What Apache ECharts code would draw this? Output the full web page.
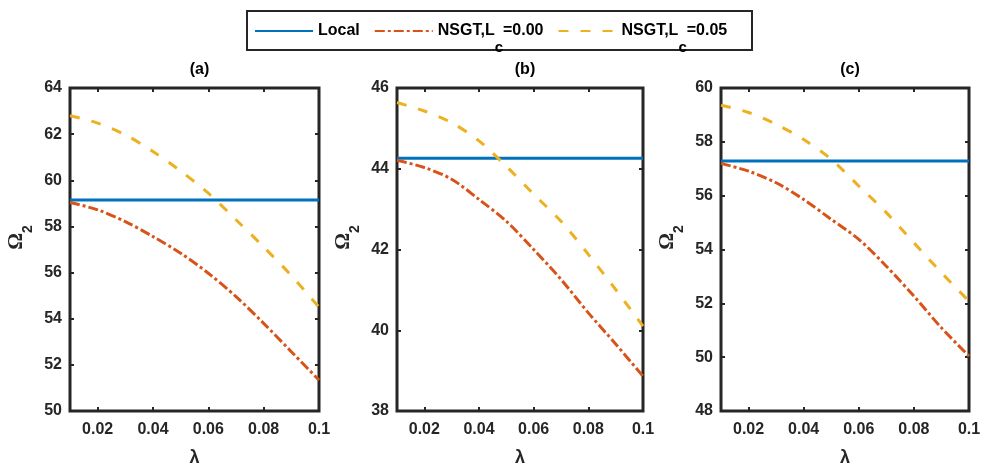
<!DOCTYPE html>
<html>
<head>
<meta charset="utf-8">
<script src="https://cdn.jsdelivr.net/npm/echarts@6/dist/echarts.min.js"></script>
<style>html,body{margin:0;padding:0;background:#fff;}#c{width:987px;height:465px;}</style>
</head>
<body>
<div id="c"></div>
<script>
// ---- data ----
const lambda = [0.01, 0.02, 0.03, 0.04, 0.05, 0.06, 0.07, 0.08, 0.09, 0.10];
const xTicks = [0.02, 0.04, 0.06, 0.08, 0.1];
const panelTitles = ['(a)', '(b)', '(c)'];
const seriesNames = ['Local', 'NSGT,L_c=0.00', 'NSGT,L_c=0.05'];

const localA = 59.15;
const nsgt0A = [59.04, 58.72, 58.21, 57.56, 56.84, 55.97, 54.96, 53.80, 52.57, 51.34];
const nsgt5A = [62.80, 62.48, 61.97, 61.25, 60.40, 59.44, 58.29, 57.11, 55.87, 54.50];

const localB = 44.26;
const nsgt0B = [44.21, 44.03, 43.74, 43.24, 42.70, 42.00, 41.26, 40.43, 39.66, 38.86];
const nsgt5B = [45.64, 45.43, 45.14, 44.69, 44.06, 43.37, 42.70, 41.88, 41.01, 40.10];

const localC = 57.29;
const nsgt0C = [57.20, 56.91, 56.48, 55.86, 55.12, 54.38, 53.38, 52.27, 51.09, 50.04];
const nsgt5C = [59.36, 59.09, 58.65, 58.09, 57.35, 56.36, 55.37, 54.25, 53.14, 52.08];

const yMin = [50, 38, 48];
const yMax = [64, 46, 60];
const yStep = [2, 2, 2];

// ---- styling / layout ----
const C_LOCAL = '#0072BD', C_N0 = '#D95319', C_N5 = '#EDB120';
const AX = '#262626';
const grids = [
  {left: 70, top: 88, width: 249, height: 323},
  {left: 397, top: 88, width: 246, height: 323},
  {left: 721, top: 88, width: 248, height: 323}
];
const panels = [
  {local: localA, n0: nsgt0A, n5: nsgt5A},
  {local: localB, n0: nsgt0B, n5: nsgt5B},
  {local: localC, n0: nsgt0C, n5: nsgt5C}
];

const FONT = 'Liberation Sans';
const option = {
  backgroundColor: '#fff',
  animation: false,
  textStyle: {fontFamily: FONT},
  grid: grids.map(g => Object.assign({show: true, borderColor: AX, borderWidth: 3, backgroundColor: 'transparent',
    containLabel: false, outerBoundsMode: 'none'}, g)),
  title: grids.map((g, i) => ({
    text: panelTitles[i], left: g.left + g.width / 2, top: 57, textAlign: 'center',
    textStyle: {fontFamily: FONT, fontWeight: 'bold', fontSize: 16, color: '#000'}
  })),
  legend: {
    left: 254, top: 23, padding: 0, itemGap: 14, itemWidth: 58, itemHeight: 14,
    data: seriesNames,
    itemStyle: {opacity: 0, borderWidth: 0},
    formatter: n => n.indexOf('L_c') >= 0 ? n.replace('L_c', 'L{sub|c}') : n,
    textStyle: {
      fontFamily: FONT, fontWeight: 'bold', fontSize: 16, color: '#000',
      rich: {sub: {fontFamily: FONT, fontWeight: 'bold', fontSize: 15, color: '#000', padding: [33, 0, 0, 0]}}
    }
  },
  graphic: [{type: 'rect', shape: {x: 247, y: 11, width: 505, height: 39},
    style: {fill: 'none', stroke: AX, lineWidth: 2}, z: -1, silent: true}],
  xAxis: [],
  yAxis: [],
  series: []
};

grids.forEach((g, i) => {
  const tick = {show: true, inside: true, length: 4, customValues: xTicks, lineStyle: {color: AX, width: 2}};
  option.xAxis.push({
    type: 'value', gridIndex: i, min: 0.01, max: 0.1, position: 'bottom',
    axisLine: {show: false}, splitLine: {show: false}, axisTick: tick,
    axisLabel: {customValues: xTicks, margin: 11, fontFamily: FONT, fontWeight: 'bold', fontSize: 16, color: AX},
    name: 'λ', nameLocation: 'middle', nameGap: 38,
    nameTextStyle: {fontFamily: FONT, fontWeight: 'bold', fontSize: 18, color: AX}
  });
  option.xAxis.push({
    type: 'value', gridIndex: i, min: 0.01, max: 0.1, position: 'top',
    axisLine: {show: false}, splitLine: {show: false}, axisTick: tick, axisLabel: {show: false}
  });
  const ytick = {show: true, inside: true, length: 4, lineStyle: {color: AX, width: 2}};
  option.yAxis.push({
    type: 'value', gridIndex: i, min: yMin[i], max: yMax[i], interval: yStep[i], position: 'left',
    axisLine: {show: false}, splitLine: {show: false}, axisTick: ytick,
    axisLabel: {margin: 8, fontFamily: FONT, fontWeight: 'bold', fontSize: 16, color: AX},
    name: '{om|Ω}{sub|2}', nameLocation: 'middle', nameRotate: 90, nameGap: 35,
    nameTextStyle: {
      padding: [0, 0, 0, 24],
      rich: {
        om: {fontFamily: 'Liberation Serif', fontSize: 21, fontWeight: 'bold', color: AX},
        sub: {fontFamily: FONT, fontSize: 14, fontWeight: 'bold', color: AX, padding: [22, 0, 0, 0]}
      }
    }
  });
  option.yAxis.push({
    type: 'value', gridIndex: i, min: yMin[i], max: yMax[i], interval: yStep[i], position: 'right',
    axisLine: {show: false}, splitLine: {show: false}, axisTick: ytick, axisLabel: {show: false}
  });
  const p = panels[i];
  const xi = 2 * i, yi = 2 * i;
  option.series.push({
    name: seriesNames[0], type: 'line', xAxisIndex: xi, yAxisIndex: yi, symbol: 'none',
    data: [[lambda[0], p.local], [lambda[lambda.length - 1], p.local]],
    lineStyle: {color: C_LOCAL, width: 3}, itemStyle: {color: C_LOCAL}
  });
  option.series.push({
    name: seriesNames[1], type: 'line', xAxisIndex: xi, yAxisIndex: yi, symbol: 'none', smooth: 0.3,
    data: lambda.map((x, k) => [x, p.n0[k]]),
    lineStyle: {color: C_N0, width: 3, type: [10, 3, 3, 3]}, itemStyle: {color: C_N0}
  });
  option.series.push({
    name: seriesNames[2], type: 'line', xAxisIndex: xi, yAxisIndex: yi, symbol: 'none', smooth: 0.3,
    data: lambda.map((x, k) => [x, p.n5[k]]),
    lineStyle: {color: C_N5, width: 3, type: [10, 12]}, itemStyle: {color: C_N5}
  });
});

const chart = echarts.init(document.getElementById('c'), null, {renderer: 'canvas'});
chart.setOption(option);
</script>
</body>
</html>
